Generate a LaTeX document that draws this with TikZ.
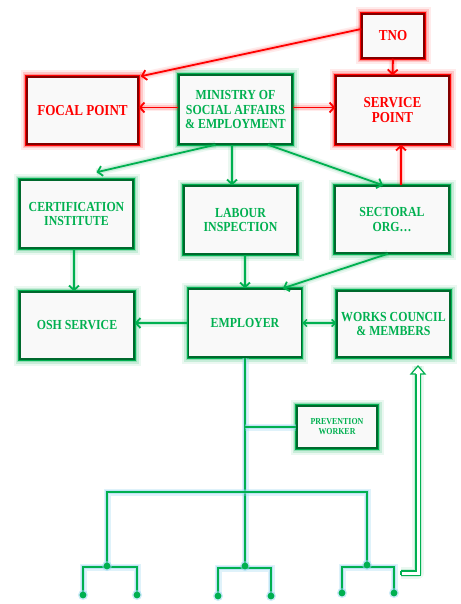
\documentclass[tikz,border=0pt]{standalone}
\usepackage{fontspec}
\setmainfont{Liberation Serif}[FakeStretch=0.86]
\usetikzlibrary{arrows.meta}
\definecolor{G}{RGB}{0,176,80}
\definecolor{GD}{RGB}{0,105,45}
\definecolor{R}{RGB}{255,0,0}
\definecolor{RD}{RGB}{130,0,0}
\definecolor{BF}{RGB}{249,249,249}
\definecolor{GL}{RGB}{150,215,240}
\begin{document}
\begin{tikzpicture}[x=1pt,y=-1pt,
  box/.style={line width=1.5pt, inner sep=0pt, align=center},
  gbox/.style={box, draw=GD, fill=BF, text=G,
    preaction={draw=G, opacity=0.08, line width=13pt},
    preaction={draw=G, opacity=0.15, line width=9pt},
    preaction={draw=G, opacity=0.25, line width=5.5pt},
    preaction={draw=G, line width=3.2pt},
    font=\fontsize{13.8}{14.7}\selectfont\bfseries},
  rbox/.style={box, draw=RD, fill=BF, text=R,
    preaction={draw=R, opacity=0.08, line width=13pt},
    preaction={draw=R, opacity=0.15, line width=9pt},
    preaction={draw=R, opacity=0.25, line width=5.5pt},
    preaction={draw=R, line width=3.2pt},
    font=\fontsize{15.2}{15.7}\selectfont\bfseries},
  gglow/.style={preaction={draw=G, opacity=0.08, line width=8pt, -},
    preaction={draw=G, opacity=0.14, line width=4.5pt, -}},
  rglow/.style={preaction={draw=R, opacity=0.08, line width=8pt, -},
    preaction={draw=R, opacity=0.14, line width=4.5pt, -}},
  garr/.style={gglow, draw=G, line width=1.8pt, -{Straight Barb[length=4.5pt,width=10pt]}},
  garrs/.style={gglow, draw=G, line width=1.5pt, {Straight Barb[length=3.5pt,width=7pt]}-{Straight Barb[length=3.5pt,width=7pt]}},
  rarr/.style={rglow, draw=R, line width=1.8pt, -{Straight Barb[length=4.5pt,width=10pt]}},
  tline/.style={draw=G, line width=2pt,
    preaction={draw=GL, line width=7pt, opacity=0.3},
    preaction={draw=GL, line width=4.5pt, opacity=0.45}},
  tdot/.style={fill=G, preaction={fill=GL, opacity=0.5, draw=GL, line width=3pt}}
]
\fill[white] (0,0) rectangle (460,604);
\useasboundingbox (0,0) rectangle (460,604);

% boxes
\node[rbox, minimum width=62pt, minimum height=44pt] (tno) at (393,36) {TNO};
\node[rbox, minimum width=111pt, minimum height=67pt] (focal) at (82.5,110.5) {FOCAL POINT};
\node[gbox, minimum width=113pt, minimum height=69pt] (min) at (235.5,109.5) {MINISTRY OF\\SOCIAL AFFAIRS\\\& EMPLOYMENT};
\node[rbox, minimum width=113pt, minimum height=68pt] (serv) at (392.5,110) {SERVICE\\POINT};
\node[gbox, minimum width=113pt, minimum height=68pt] (cert) at (76.5,214) {CERTIFICATION\\INSTITUTE};
\node[gbox, minimum width=113pt, minimum height=68pt] (lab) at (240.5,220) {LABOUR\\INSPECTION};
\node[gbox, minimum width=114pt, minimum height=67pt] (sect) at (392,219.5) {SECTORAL\\ORG…};
\node[gbox, minimum width=114pt, minimum height=67pt] (osh) at (77,325.5) {OSH SERVICE};
\node[gbox, minimum width=113pt, minimum height=68pt] (emp) at (245,323) {EMPLOYER};
\node[gbox, minimum width=113pt, minimum height=66pt] (works) at (393.5,324) {WORKS COUNCIL\\\& MEMBERS};
\node[gbox, minimum width=80pt, minimum height=42pt, line width=1.3pt,
  font=\fontsize{9.2}{10}\selectfont\bfseries] (pw) at (337,427) {PREVENTION\\WORKER};

% red connectors
\draw[rarr] ([yshift=7pt]tno.west) -- ([xshift=2pt]focal.north east);
\draw[rarr] (tno.south) -- (serv.north);
\draw[rarr] ([yshift=2pt]min.west) -- ([yshift=2pt]min.west -| focal.east);
\draw[rarr] ([yshift=2pt]min.east) -- ([yshift=2pt]min.east -| serv.west);
\draw[rarr] ([xshift=9pt]sect.north) -- ([xshift=8.5pt]serv.south);

% green connectors
\draw[garr] ([xshift=-20pt]min.south) -- ([xshift=20pt,yshift=7pt]cert.north);
\draw[garr] ([xshift=-3.5pt]min.south) -- ([xshift=-3.5pt]min.south |- lab.north);
\draw[garr] ([xshift=32.5pt]min.south) -- ([xshift=-9pt]sect.north);
\draw[garr] ([xshift=-2.5pt]cert.south) -- ([xshift=-2.5pt]cert.south |- osh.north);
\draw[garr] (emp.north |- lab.south) -- (emp.north);
\draw[garr] ([xshift=-4pt]sect.south) -- ([xshift=38pt]emp.north);
\draw[garr] (emp.west) -- (emp.west -| osh.east);
\draw[garrs] (emp.east) -- (emp.east -| works.west);

% tree
\coordinate (pj) at (pw.west -| emp.south);
\coordinate (bl) at (107,492);
\coordinate (br) at (367,492);
\coordinate (l0) at (107,566);
\coordinate (l1) at (83,567);
\coordinate (l2) at (137,567);
\coordinate (l1b) at (83,595);
\coordinate (l2b) at (137,595);
\coordinate (m0) at (245,566);
\coordinate (m1) at (218,568);
\coordinate (m2) at (271,568);
\coordinate (m1b) at (218,596);
\coordinate (m2b) at (271,596);
\coordinate (r0) at (367,565);
\coordinate (r1) at (342,567);
\coordinate (r2) at (394,567);
\coordinate (r1b) at (342,593);
\coordinate (r2b) at (394,593);

\draw[tline] (emp.south) -- (m0);
\draw[tline] (pj) -- (pw.west);
\draw[tline] (l0) -- (bl) -- (br) -- (r0);
\draw[tline] (l1b) -- (l1) -- (l2) -- (l2b);
\draw[tline] (m1b) -- (m1) -- (m2) -- (m2b);
\draw[tline] (r1b) -- (r1) -- (r2) -- (r2b);
\foreach \c in {l0,l1b,l2b,m0,m1b,m2b,r0,r1b,r2b}
  \fill[tdot] (\c) circle (3.4pt);

% hollow arrow to works council
\coordinate (h0) at (401,573);
\coordinate (h1) at (418,573);
\coordinate (h2) at (418,374);
\coordinate (htip) at (418,366);
\draw[G, opacity=0.08, line width=12pt, line join=round] (h0) -- (h1) -- (htip);
\draw[G, opacity=0.14, line width=8.5pt, line join=round] (h0) -- (h1) -- (htip);
\draw[G, line width=1.2pt, double=white, double distance=3pt] (h0) -- (h1) -- (h2);
\draw[G, line width=1.2pt] ([yshift=2.1pt]h0) -- ([yshift=-2.1pt]h0);
\draw[G, line width=1.2pt, fill=white, line join=miter]
  ([xshift=-2.1pt]h2) -- ([xshift=-7pt]h2) -- (htip) -- ([xshift=7pt]h2) -- ([xshift=2.1pt]h2);
\fill[white] ([xshift=-1.5pt,yshift=-0.5pt]h2) rectangle ([xshift=1.5pt,yshift=1pt]h2);
\end{tikzpicture}
\end{document}
